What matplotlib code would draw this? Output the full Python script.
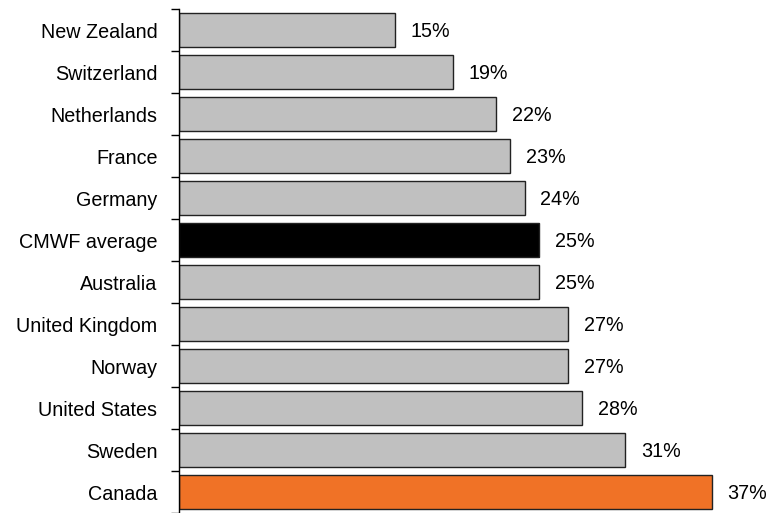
import matplotlib
matplotlib.use("Agg")
import matplotlib.pyplot as plt
import numpy as np

countries = ["New Zealand", "Switzerland", "Netherlands", "France", "Germany",
             "CMWF average", "Australia", "United Kingdom", "Norway",
             "United States", "Sweden", "Canada"]
values = [15, 19, 22, 23, 24, 25, 25, 27, 27, 28, 31, 37]
colors = ["#C0C0C0"] * 5 + ["#000000"] + ["#C0C0C0"] * 5 + ["#F07226"]

plt.rcParams['font.family'] = ['Liberation Sans', 'DejaVu Sans']

W, H = 768, 513
fig = plt.figure(figsize=(W / 100, H / 100), dpi=100)
left, top = 179, 9
ax = fig.add_axes([left / W, 0, (W - left) / W, (H - top) / H])

y = np.arange(len(countries))
ax.barh(y, values, height=0.8, color=colors, edgecolor="#222222", linewidth=1)

ax.set_xlim(0, (W - left) / 14.4)
ax.set_ylim(len(countries) - 0.5, -0.5)

fs = 14.2
for yi, v in zip(y, values):
    ax.text(v + 1.1, yi + 0.04, f"{v}%", va="center", ha="left", fontsize=fs)

ax.set_yticks(y)
ax.set_yticklabels(countries, fontsize=fs)
ax.tick_params(axis="y", which="major", length=0, pad=15.5)
ax.set_yticks(np.arange(len(countries) + 1) - 0.5, minor=True)
ax.tick_params(axis="y", which="minor", length=6, width=1, direction="out", color="black")
ax.set_xticks([])
for s in ["top", "right", "bottom"]:
    ax.spines[s].set_visible(False)
ax.spines["left"].set_linewidth(1)
ax.spines["left"].set_color("black")

fig.savefig("out.png", dpi=100)
